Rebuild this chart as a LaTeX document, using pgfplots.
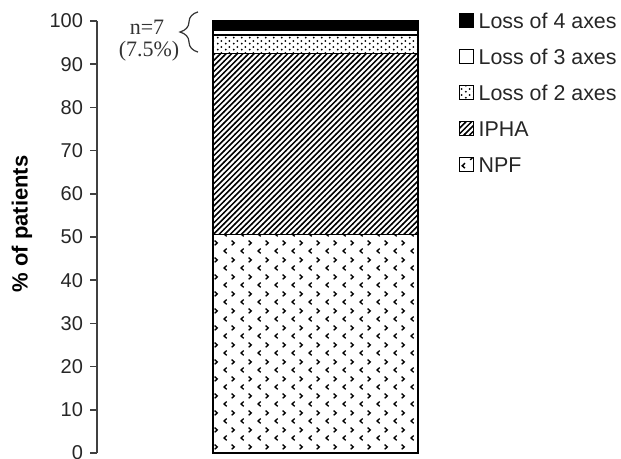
\documentclass[border=0pt]{standalone}
\usepackage{pgfplots}
\pgfplotsset{compat=1.18}
\usepackage{fontspec}
\setmainfont{Liberation Sans}
\newfontfamily\seriffont{Liberation Serif}
\usetikzlibrary{patterns,decorations.pathreplacing}

\pgfdeclarepatternformonly{npf}{\pgfqpoint{0pt}{0pt}}{\pgfqpoint{8.5pt}{8.5pt}}{\pgfqpoint{8.5pt}{8.5pt}}{%
  \pgfsetlinewidth{0.7pt}%
  \pgfpathmoveto{\pgfqpoint{3.0pt}{3.4pt}}\pgfpathlineto{\pgfqpoint{1.6pt}{2.1pt}}\pgfpathlineto{\pgfqpoint{3.0pt}{0.9pt}}%
  \pgfpathmoveto{\pgfqpoint{5.6pt}{7.6pt}}\pgfpathlineto{\pgfqpoint{7.0pt}{6.35pt}}\pgfpathlineto{\pgfqpoint{5.6pt}{5.1pt}}%
  \pgfusepath{stroke}}

\pgfdeclarepatternformonly{ipha}{\pgfqpoint{-0.5pt}{-0.5pt}}{\pgfqpoint{3.3pt}{3.3pt}}{\pgfqpoint{2.8pt}{2.8pt}}{%
  \pgfsetlinewidth{0.75pt}%
  \pgfpathmoveto{\pgfqpoint{-0.1pt}{-0.1pt}}\pgfpathlineto{\pgfqpoint{2.9pt}{2.9pt}}%
  \pgfusepath{stroke}}

\pgfdeclarepatternformonly{lossdots}{\pgfqpoint{0pt}{0pt}}{\pgfqpoint{4pt}{3pt}}{\pgfqpoint{4pt}{3pt}}{%
  \pgfpathcircle{\pgfqpoint{1pt}{0.75pt}}{0.55pt}%
  \pgfpathcircle{\pgfqpoint{3pt}{2.25pt}}{0.55pt}%
  \pgfusepath{fill}}

\begin{document}
\begin{tikzpicture}
\begin{axis}[
  at={(48.5pt,3pt)}, anchor=south west,
  scale only axis,
  width=171.5pt, height=216pt,
  xmin=97, xmax=440,
  ymin=0, ymax=100,
  clip=false,
  axis y line=left,
  axis x line=none,
  y axis line style={-, draw=black!75, line width=0.75pt},
  ytick={0,10,...,100},
  tick align=outside,
  major tick length=3.5pt,
  y tick style={draw=black!75, line width=0.75pt},
  yticklabel style={font=\fontsize{10}{12}\selectfont, text=black!85},
  /pgf/number format/assume math mode=true,
  ylabel={\textbf{\% of patients}},
  ylabel style={at={(axis description cs:-0.219,0.53)}, anchor=center, rotate=0, font=\fontsize{11}{13}\selectfont},
  ybar stacked,
  bar width=205,
  reverse legend,
  legend cell align=left,
  legend image code/.code={\draw[#1, draw=black, line width=0.5pt] (0pt,-3.4pt) rectangle (6.8pt,3.4pt);},
  legend style={draw=none, fill=none, inner sep=0pt, outer sep=0pt,
    at={(axis description cs:1.0554,1.0185)}, anchor=north west,
    nodes={inner sep=0pt, text height=7.7pt, text depth=0pt, font=\fontsize{10.7}{12}\selectfont, text=black!85},
    row sep=10.3pt, column sep=2.5pt},
]
\addplot[draw=black, line width=0.75pt, pattern=npf] coordinates {(315.5,50.54)};
\addlegendentry{NPF}
\addplot[draw=black, line width=0.75pt, pattern=ipha] coordinates {(315.5,41.94)};
\addlegendentry{IPHA}
\addplot[draw=black, line width=0.75pt, pattern=lossdots] coordinates {(315.5,4.30)};
\addlegendentry{Loss of 2 axes}
\addplot[draw=black, line width=0.75pt, fill=white] coordinates {(315.5,1.07)};
\addlegendentry{Loss of 3 axes}
\addplot[draw=black, line width=0.75pt, fill=black] coordinates {(315.5,2.15)};
\addlegendentry{Loss of 4 axes}

\draw[decorate, decoration={brace, amplitude=9pt}, line width=0.6pt, black!80]
  (axis cs:198,92.8) -- (axis cs:198,102.1);
\node[font=\seriffont\fontsize{11}{13}\selectfont, text=black!80] at (axis cs:147,98.6) {n=7};
\node[font=\seriffont\fontsize{11}{13}\selectfont, text=black!80] at (axis cs:149,92.9) {(7.5\%)};
\end{axis}
\pgfresetboundingbox
\path[use as bounding box] (0,0) rectangle (310.5pt,229.5pt);
\end{tikzpicture}
\end{document}
